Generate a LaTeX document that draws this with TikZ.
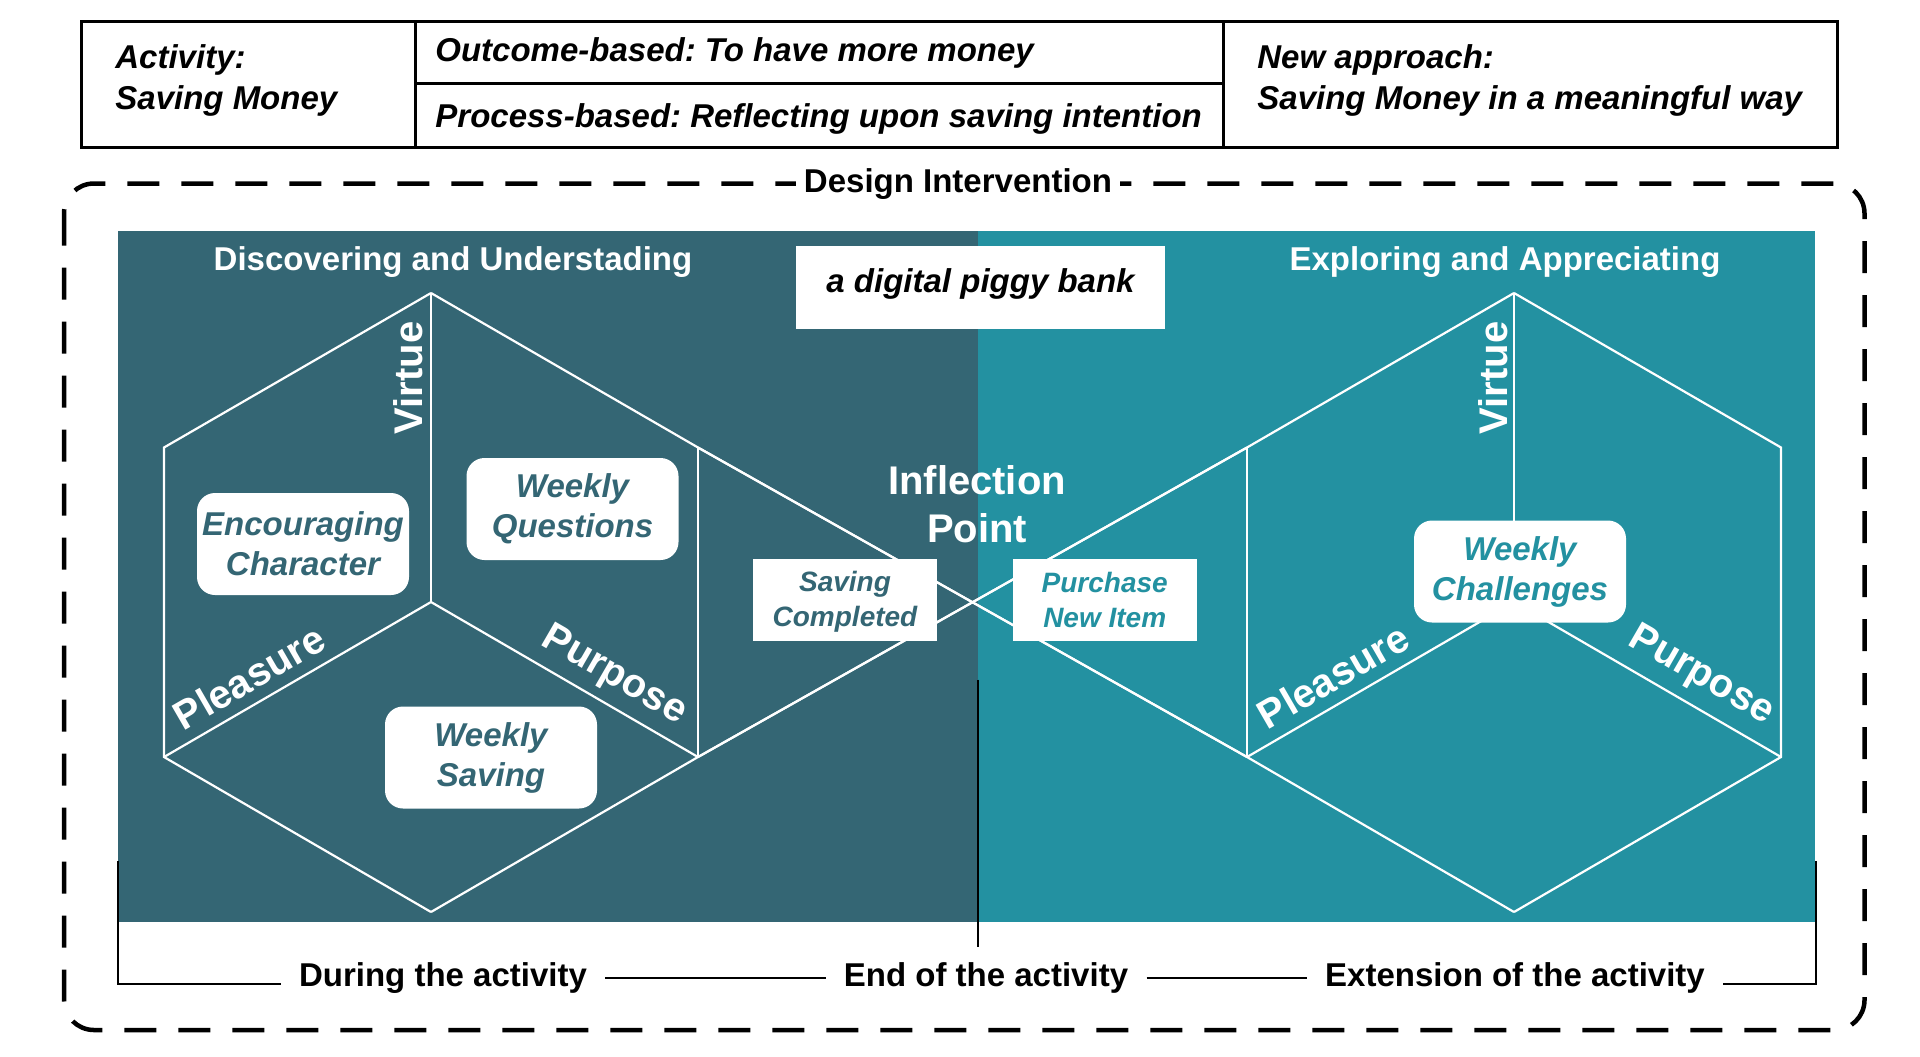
\documentclass[tikz,border=0pt]{standalone}
\usepackage{fontspec}
\setmainfont{Liberation Sans}
\frenchspacing
\definecolor{darkp}{HTML}{346674}
\definecolor{tealp}{HTML}{2391A1}
\newcommand\myfs[2]{\fontsize{#1}{#2}\selectfont}
\begin{document}
\begin{tikzpicture}[x=0.5pt,y=-0.5pt,
  tabtext/.style={font=\myfs{16.5}{20.3}\bfseries\itshape, anchor=west, align=left, inner sep=0pt},
  hdr/.style={font=\myfs{16.5}{20}\bfseries, text=white, inner sep=0pt},
  rbox/.style={fill=white, rounded corners=9pt, minimum width=106pt, minimum height=51pt, align=center, inner sep=0pt, font=\myfs{16.5}{20}\bfseries\itshape, text=darkp},
  sbox/.style={fill=white, minimum width=92pt, minimum height=41pt, align=center, inner sep=0pt, font=\myfs{14}{17.5}\bfseries\itshape},
  axislbl/.style={font=\myfs{20}{24}\bfseries, text=white, inner sep=0pt},
  wline/.style={draw=white, line width=1.1pt, line join=miter},
  tl/.style={font=\myfs{16.5}{20}\bfseries, inner xsep=9pt, inner ysep=0pt},
  tline/.style={draw=black, line width=1pt}
]
\useasboundingbox (0,0) rectangle (1920,1056);

% ---------- top table ----------
\draw[line width=1.5pt] (81.5,21) rectangle (1837.5,147);
\draw[line width=1.5pt] (415,21) -- (415,147);
\draw[line width=1.5pt] (1223,21) -- (1223,147);
\draw[line width=1.5pt] (415,83.5) -- (1223,83.5);
\node[tabtext] (act) at (115,80.5) {Activity:\\Saving Money};
\node[tabtext] (outc) at (435,52.5) {Outcome-based: To have more money};
\node[tabtext] (proc) at (435,119) {Process-based: Reflecting upon saving intention};
\node[tabtext] (newa) at (1257,80.5) {New approach:\\Saving Money in a meaningful way};

% ---------- dashed frame ----------
\draw[line width=2.25pt, dash pattern=on 16pt off 11pt, rounded corners=15pt] (64,183.5) rectangle (1864.5,1030);
\node[fill=white, inner xsep=4pt, inner ysep=2pt, font=\myfs{16.5}{20}\bfseries] (di) at (958,184.5) {Design Intervention};

% ---------- panels ----------
\fill[darkp] (118,231) rectangle (978,922);
\fill[tealp] (978,231) rectangle (1815,922);

% ---------- cube points ----------
\coordinate (C1) at (431,602);
\coordinate (top1) at (431,293);
\coordinate (UL1) at (164,447.5);
\coordinate (LL1) at (164,757);
\coordinate (bot1) at (431,912);
\coordinate (LR1) at (698,757);
\coordinate (UR1) at (698,447.5);
\coordinate (C2) at (1514,602);
\coordinate (top2) at (1514,293);
\coordinate (UL2) at (1247,447.5);
\coordinate (LL2) at (1247,757);
\coordinate (bot2) at (1514,912);
\coordinate (LR2) at (1781,757);
\coordinate (UR2) at (1781,447.5);

% ---------- cube lines ----------
\draw[wline] (top1) -- (UL1) -- (LL1) -- (bot1);
\draw[wline] (top1) -- (UR1) -- (LL2);
\draw[wline] (bot1) -- (LR1) -- (UL2);
\draw[wline] (UR1) -- (LR1);
\draw[wline] (C1) -- (top1);
\draw[wline] (C1) -- (LL1);
\draw[wline] (C1) -- (LR1);
\draw[wline] (top2) -- (UR2) -- (LR2) -- (bot2);
\draw[wline] (top2) -- (UL2) -- (LR1);
\draw[wline] (bot2) -- (LL2) -- (UR1);
\draw[wline] (UL2) -- (LL2);
\draw[wline] (C2) -- (top2);
\draw[wline] (C2) -- (LL2);
\draw[wline] (C2) -- (LR2);

% ---------- headers ----------
\node[hdr] (h1) at (453,262) {Discovering and Understading};
\node[hdr] (h2) at (1505,262) {Exploring and Appreciating};
\node[fill=white, minimum width=184.5pt, minimum height=41.5pt, inner sep=0pt, font=\myfs{16.5}{20}\bfseries\itshape] (piggy) at (980.5,287.5) {\raisebox{2pt}[\height][\depth]{a digital piggy bank}};
\node[axislbl, align=center] (infl) at (977,504) {Inflection\\Point};

% ---------- axis labels ----------
\node[axislbl, rotate=90] (v1) at (408,378) {Virtue};
\node[axislbl, rotate=30] (pl1) at (249,677) {Pleasure};
\node[axislbl, rotate=-30] (pu1) at (614,676) {Purpose};
\node[axislbl, rotate=90] (v2) at (1493,378) {Virtue};
\node[axislbl, rotate=30] (pl2) at (1333,676) {Pleasure};
\node[axislbl, rotate=-30] (pu2) at (1701,676) {Purpose};

% ---------- boxes ----------
\node[rbox] (enc) at (303,544) {Encouraging\\Character};
\node[rbox] (wq) at (572.5,509) {Weekly\\Questions};
\node[rbox] (ws) at (491,757.5) {Weekly\\Saving};
\node[rbox, text=tealp] (wc) at (1520,571.5) {Weekly\\Challenges};
\node[sbox, text=darkp] (sc) at (845,600) {\raisebox{-1pt}[\height][\depth]{\parbox{92pt}{\centering Saving\\Completed}}};
\node[sbox, text=tealp] (pn) at (1104.7,600) {Purchase\\New Item};

% ---------- timeline ----------
\coordinate (divT) at (978,679.5);
\coordinate (divB) at (978,947);
\draw[tline] (divT) -- (divB);
\coordinate (tlL) at (118,861);
\coordinate (tlLb) at (118,984);
\coordinate (tlR) at (1815.5,861);
\coordinate (tlRb) at (1815.5,984);
\node[tl] (during) at (443,978) {During the activity};
\node[tl] (endact) at (986,978) {End of the activity};
\node[tl] (ext) at (1515,978) {Extension of the activity};
\draw[tline] (tlL) -- (tlLb) -- (during.west |- tlLb);
\draw[tline] (during.east) -- (endact.west);
\draw[tline] (endact.east) -- (ext.west);
\draw[tline] (ext.east |- tlRb) -- (tlRb) -- (tlR);
\end{tikzpicture}
\end{document}
